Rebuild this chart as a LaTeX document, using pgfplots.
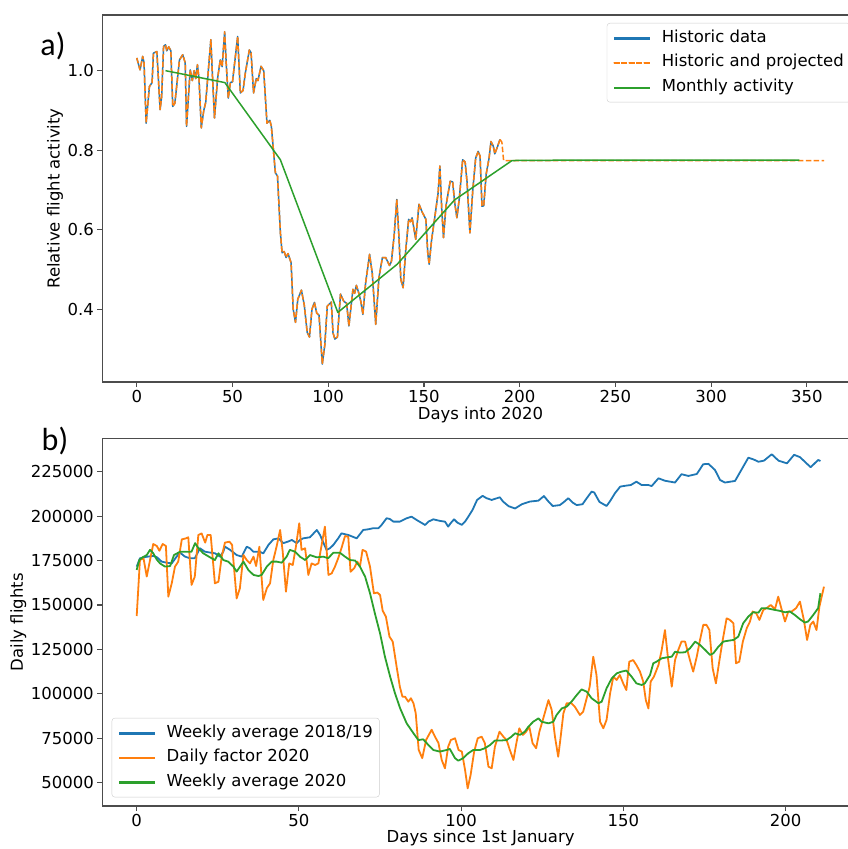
\documentclass[border=0pt]{standalone}
\usepackage{fontspec}
\setmainfont{DejaVu Sans}
\newfontfamily\calfont{Carlito}
\usepackage{pgfplots}
\usepackage{pgfplotstable}
\pgfplotsset{compat=1.18}
\definecolor{mplblue}{HTML}{1F77B4}
\definecolor{mplorange}{HTML}{FF7F0E}
\definecolor{mplgreen}{HTML}{2CA02C}

\pgfplotstableread{
day val
0 1.032
1.7 1.002
3.1 1.036
3.8 1.020
4.9 0.868
6.6 0.960
8.0 0.970
8.7 1.044
10.5 1.048
12.2 0.902
13.0 0.935
14.0 1.061
15.0 1.065
15.7 1.050
16.7 1.060
17.8 1.050
18.8 0.910
19.9 0.918
22.3 1.027
24.0 1.040
25.3 1.020
26.0 0.860
27.9 1.002
29.0 0.975
30.0 1.000
30.8 0.980
31.7 1.015
32.5 0.980
33.7 0.856
35.0 0.900
36.0 0.920
37.2 0.990
38.7 1.078
39.6 0.980
40.6 0.881
42.2 0.980
43.6 1.027
44.6 1.010
45.9 1.098
46.7 1.020
47.8 0.931
48.9 0.970
50.0 0.972
52.7 1.086
54.1 0.944
55.5 0.950
56.7 0.994
58.8 1.052
59.7 1.045
61.0 0.944
62.4 0.980
63.3 0.975
64.9 1.011
66.3 1.000
68.0 0.868
69.5 0.875
70.3 0.860
71.5 0.793
72.4 0.743
73.5 0.735
75.0 0.593
75.9 0.542
77.0 0.545
78.0 0.530
79.0 0.540
80.6 0.517
81.7 0.400
82.9 0.367
84.1 0.425
86.0 0.448
87.5 0.410
89.0 0.342
90.2 0.330
91.5 0.400
92.8 0.417
94.0 0.390
95.2 0.385
96.9 0.262
98.2 0.310
99.5 0.408
101.6 0.418
102.5 0.340
103.5 0.325
104.8 0.330
106.4 0.438
108.1 0.420
109.6 0.415
110.8 0.358
112.0 0.410
112.9 0.450
113.8 0.440
114.7 0.460
116.0 0.440
117.0 0.420
118.1 0.387
119.5 0.465
121.6 0.538
123.0 0.490
124.8 0.362
126.5 0.480
128.3 0.530
130.0 0.530
132.0 0.510
133.0 0.520
134.4 0.584
135.8 0.676
137.0 0.576
137.9 0.475
139.1 0.454
140.5 0.550
142.0 0.626
143.0 0.620
143.8 0.630
145.7 0.576
147.4 0.664
149.0 0.645
151.0 0.626
152.0 0.540
152.7 0.513
154.0 0.575
155.5 0.626
157.4 0.693
158.3 0.760
159.3 0.650
160.2 0.580
161.5 0.660
163.7 0.722
165.0 0.720
166.0 0.670
167.2 0.630
168.5 0.680
170.2 0.776
171.5 0.770
172.5 0.720
174.0 0.592
175.5 0.700
177.0 0.780
178.3 0.797
179.3 0.785
180.3 0.659
181.2 0.660
182.5 0.740
184.0 0.780
185.0 0.822
186.2 0.810
187.0 0.791
188.5 0.810
189.7 0.827
}\histdata

\pgfplotstableread{
day val
189.7 0.827
190.7 0.820
191.6 0.774
359 0.774
}\projtail

\pgfplotstableread{
day val
15 1.000
46 0.970
75 0.776
105 0.392
136 0.513
166 0.675
196 0.774
227 0.775
258 0.775
288 0.775
319 0.775
346 0.775
}\monthly

\pgfplotstableread{
day val
0 171560
1 176250
2.6 177000
5.1 177600
6.2 176900
7.7 174400
9.2 173800
10.8 173400
12.3 177200
13.3 179500
14.9 177200
16.4 176300
17.9 176300
19.5 181900
21.0 180000
22.6 179500
24.1 179100
25.7 177200
26.7 180000
27.2 182800
28.8 181000
30.8 178100
32.4 177200
33.9 182800
34.9 181900
35.9 180000
37.9 180000
39.0 179000
40.6 183800
42.1 186900
43.7 187500
45.2 184800
46.7 185700
47.8 186600
49.3 184800
50.3 186600
51.3 187500
53.4 188100
55.5 192200
56.5 189400
58.5 181000
59.6 182000
60.6 183800
62.1 187500
63.1 190300
65.2 189400
67.8 187500
69.8 192200
71.4 192600
72.9 193200
74.5 193200
75.5 195100
77.0 198800
78.0 198400
79.1 196900
81.1 196900
83.2 198800
84.7 199700
86.3 197800
88.9 195000
89.9 196900
91.4 198200
93.5 197300
95.0 196900
96.0 194100
96.7 195900
97.8 198200
98.8 196400
100.2 195100
101.2 196900
102.2 199700
103.5 203500
104.9 209100
106.6 211400
107.8 210100
109.4 209100
111.9 210600
112.9 208200
114.6 205600
116.6 204300
118.7 206700
121.2 208200
123.8 208700
125.5 211300
126.9 208200
128.2 205700
130.4 206200
131.7 208000
133.0 210100
134.3 207700
135.6 206200
137.4 206700
138.7 210100
140.2 213800
141.0 213300
142.6 208000
144.8 205700
145.8 208200
147.4 212900
149.0 216600
151.0 217200
152.3 217500
154.0 219400
155.6 217500
157.7 217500
158.7 216900
160.8 221300
162.8 219900
165.9 218900
167.9 223600
170.0 222600
172.6 223700
174.6 229200
176.2 229400
178.2 226000
179.8 220300
181.3 218900
184.4 219800
186.9 227800
188.5 232900
190.1 231900
191.6 230600
193.3 231200
195.7 234800
197.8 231200
200.4 229700
202.6 234500
204.4 233200
207.7 227500
210.0 231600
210.7 231000
}\weeklyhist

\pgfplotstableread{
day val
0 143800
1.0 175300
2.1 176300
3.1 166000
5.1 184300
6.2 183200
7.0 180500
8.0 184300
9.0 183200
9.75 154700
10.8 162200
11.8 171600
12.8 174400
13.9 186900
15.2 187500
15.9 188100
16.9 161300
17.9 165900
19.0 189400
20.0 190300
21.1 185100
21.8 189400
22.8 189400
24.1 162200
25.2 163100
26.2 177200
27.2 185100
28.6 185600
29.4 183800
30.8 153700
31.8 159400
32.9 178100
33.9 175300
34.9 173400
36.0 177200
36.8 171900
37.8 182800
39.0 152800
40.1 159400
41.1 162200
42.1 175300
43.1 182800
44.2 192200
45.0 180000
46.0 157500
47.0 173400
48.1 172500
49.1 183200
50.1 196000
50.8 181000
51.9 181900
52.9 166900
53.9 173400
55.0 172500
56.0 173400
57.0 183800
58.0 194100
59.1 166900
60.1 167800
61.1 171600
62.1 176300
63.2 182500
64.2 188800
65.2 188400
65.9 168700
67.0 170600
68.0 174400
68.8 171600
69.6 181000
70.7 180000
71.9 171600
73.1 156600
74.2 157000
75.0 155600
75.8 146800
76.8 143400
77.9 132200
78.9 129400
80.1 115300
81.1 104000
81.9 98400
82.7 98400
83.7 95600
84.5 97500
85.3 94700
86.0 89000
86.9 68500
88.0 63800
89.2 74100
90.9 79800
91.9 76000
93.0 72300
94.0 62800
95.0 58100
96.0 70300
96.8 74000
98.1 75000
99.2 68400
100.2 67500
101.2 57100
102.0 46800
102.9 54300
104.0 67500
105.1 75000
106.3 75900
107.3 72200
108.4 59000
109.4 58100
110.4 70300
111.8 78700
113.0 75900
114.0 74000
115.0 68400
116.1 62800
116.9 71200
117.9 80600
119.0 76900
120.0 78700
121.0 81500
122.0 72200
123.1 69400
124.1 78700
125.3 86200
126.9 96500
127.9 90900
128.9 75900
129.9 64600
130.6 74900
131.5 89000
132.5 94700
134.0 94700
135.0 92800
136.6 88100
137.6 90000
138.4 95600
139.6 104000
140.7 120900
141.7 110600
142.8 84300
143.8 80600
144.8 85300
145.9 100300
146.9 109700
147.9 107800
148.9 110600
149.9 106000
150.9 102100
151.8 118100
153.0 119000
154.0 116200
155.1 112500
156.1 106900
156.9 96500
157.7 91800
158.4 106900
159.4 109700
160.8 116200
161.8 124700
162.8 135900
163.8 119000
164.9 104000
165.9 119000
166.9 124700
167.9 129400
169.0 129400
170.5 119000
171.5 112500
172.6 120900
173.6 130300
174.6 138800
175.6 138800
176.5 135900
177.5 114400
178.5 105900
179.6 119000
180.6 130300
181.8 142500
182.8 141600
183.9 139700
184.7 117200
185.7 118100
186.8 129400
188.0 136900
189.0 140700
189.8 146300
190.9 145400
191.9 141600
193.1 147200
194.1 148200
195.4 150000
196.7 147600
197.7 154700
198.8 147200
199.8 140700
200.8 146300
201.8 146300
203.2 148200
204.4 151900
205.6 141600
206.6 130300
207.6 138800
208.5 140700
209.5 135900
210.4 149100
211.8 160300
}\dailyfactor

\pgfplotstableread{
day val
0 169700
0.8 175300
1.8 176800
3.1 178100
4.1 181000
5.1 179100
6.2 175500
7.2 173400
8.7 171600
10.3 171900
11.5 178100
13.4 180000
15.4 180000
16.9 180000
18.0 184800
19.0 182000
20.5 179100
22.6 176800
24.1 175300
25.2 179100
26.7 175300
28.2 174400
29.8 171600
30.8 168800
32.9 174400
34.4 169700
36.0 166900
37.5 166300
38.5 166900
40.1 171600
41.6 174400
43.1 174400
44.7 173800
46.2 177200
47.2 181000
48.8 180000
50.3 177200
51.9 175300
53.4 178100
55.5 176800
57.5 177200
59.0 176300
60.6 179400
62.6 179400
64.2 177200
65.7 175300
67.3 175000
68.8 171600
70.4 165900
71.9 156600
73.4 145300
75.0 134000
76.5 120900
78.1 109700
79.6 100300
81.2 91800
83.2 83400
85.3 77800
86.8 74000
88.3 74400
89.9 71200
91.4 68400
93.4 67500
95.5 68400
96.5 69000
98.1 63800
99.1 62400
100.6 63800
102.2 66600
103.7 68400
105.8 68400
107.3 69400
108.9 71200
110.4 73700
111.9 73700
114.0 74000
115.5 75900
116.6 77800
118.1 76900
119.6 78700
120.7 81500
122.2 84300
123.8 86200
124.8 84300
126.9 83400
128.4 84300
129.4 88100
131.0 91800
132.5 92800
134.0 95600
135.6 99300
137.1 102500
138.7 101200
140.2 97500
142.3 94700
143.3 95600
144.8 103100
146.4 108700
147.9 111500
149.4 112500
150.9 113100
152.5 109700
154.0 105900
155.6 105000
156.6 105900
158.2 110600
159.2 117200
160.2 118100
161.8 120000
163.3 120500
164.9 120900
165.9 123700
167.4 123200
169.0 123400
170.5 125600
172.1 129400
173.6 127500
175.2 124700
176.7 121900
177.7 122800
179.3 126600
180.8 129400
182.3 129900
183.9 130300
185.4 132200
186.9 139700
188.5 143500
190.0 145900
191.6 145700
192.6 148200
194.1 148200
196.7 147200
198.2 146700
199.8 145900
201.3 146300
202.8 144400
204.4 142000
205.9 140100
206.9 140700
208.5 144400
210.0 148200
210.7 156600
}\weeklynow

\pgfplotsset{
  mystyle/.style={
    scale only axis,
    axis line style={black!70, line width=1.1pt},
    tick style={black!70, line width=1.1pt},
    major tick length=5pt,
    tick align=outside,
    tick pos=left,
    minor tick num=0,
    tick label style={font=\fontsize{16.5}{19.8}\selectfont},
    label style={font=\fontsize{16.5}{19.8}\selectfont},
    /pgf/number format/assume math mode=true,
    legend cell align=left,
    legend style={draw=black!20, rounded corners=3pt, fill=white,
      inner xsep=6.6pt, inner ysep=6.6pt, row sep=8.15pt, column sep=13pt,
      nodes={inner sep=0pt, text height=12.5pt, text depth=4pt, font=\fontsize{16.5}{19.8}\selectfont}},
  }
}

\begin{document}
\begin{tikzpicture}
\useasboundingbox (0pt,0pt) rectangle (848pt,849pt);
\begin{scope}
\clip (0pt,0pt) rectangle (848pt,849pt);
\begin{axis}[mystyle,
  at={(102.3pt,467pt)}, anchor=south west,
  width=756.3pt, height=367pt,
  xmin=-18, xmax=377, ymin=0.217, ymax=1.140,
  xtick={0,50,100,150,200,250,300,350},
  ytick={0.4,0.6,0.8,1.0},
  yticklabel style={/pgf/number format/.cd, fixed, fixed zerofill, precision=1},
  xlabel={Days into 2020},
  ylabel={Relative flight activity},
  xlabel style={at={(axis description cs:0.5,-0.09)}, anchor=center},
  ylabel style={at={(axis description cs:-0.0625,0.5)}, anchor=center},
  legend style={at={(rel axis cs:1,1)}, anchor=north east, xshift=-8pt, yshift=-8pt},
]
\addplot[forget plot, mplblue, line width=1.5pt, line join=round] table[x=day,y=val] {\histdata};
\addplot[forget plot, mplorange, line width=1.5pt, line join=round, dash pattern=on 5.5pt off 2.4pt] table[x=day,y=val] {\histdata};
\addplot[forget plot, mplorange, line width=1.5pt, dash pattern=on 5.5pt off 2.4pt] table[x=day,y=val] {\projtail};
\addplot[forget plot, mplgreen, line width=1.5pt, line join=round] table[x=day,y=val] {\monthly};
\addlegendimage{legend image code/.code={\path[fill=mplblue, draw=mplblue, line width=0.2pt, sharp corners] (0pt,-0.65pt) rectangle (35pt,0.65pt);}}
\addlegendentry{Historic data}
\addlegendimage{legend image code/.code={%
  \path[fill=mplorange, draw=mplorange, line width=0.2pt, sharp corners] (0pt,-0.65pt) rectangle (5pt,0.65pt)
    (7.5pt,-0.65pt) rectangle (12.5pt,0.65pt)
    (15pt,-0.65pt) rectangle (20pt,0.65pt)
    (22.5pt,-0.65pt) rectangle (27.5pt,0.65pt)
    (30pt,-0.65pt) rectangle (35pt,0.65pt);}}
\addlegendentry{Historic and projected}
\addlegendimage{legend image code/.code={\path[fill=mplgreen, draw=mplgreen, line width=0.2pt, sharp corners] (0pt,-0.65pt) rectangle (35pt,0.65pt);}}
\addlegendentry{Monthly activity}
\end{axis}

\begin{axis}[mystyle,
  at={(102.3pt,43pt)}, anchor=south west,
  width=756.7pt, height=367.7pt,
  xmin=-10.6, xmax=222.6, ymin=36890, ymax=243790,
  xtick={0,50,100,150,200},
  ytick={50000,75000,100000,125000,150000,175000,200000,225000},
  scaled y ticks=false,
  yticklabel style={/pgf/number format/.cd, fixed, 1000 sep={}},
  xlabel={Days since 1st January},
  ylabel={Daily flights},
  xlabel style={at={(axis description cs:0.5,-0.088)}, anchor=center},
  ylabel style={at={(axis description cs:-0.111,0.5)}, anchor=center},
  legend style={at={(rel axis cs:0,0)}, anchor=south west, xshift=9.4pt, yshift=8.7pt},
]
\addplot[forget plot, mplblue, line width=1.8pt, line join=round] table[x=day,y=val] {\weeklyhist};
\addplot[forget plot, mplorange, line width=1.8pt, line join=round] table[x=day,y=val] {\dailyfactor};
\addplot[forget plot, mplgreen, line width=1.8pt, line join=round] table[x=day,y=val] {\weeklynow};
\addlegendimage{legend image code/.code={\path[fill=mplblue, draw=mplblue, line width=0.2pt, sharp corners] (0pt,-0.8pt) rectangle (35pt,0.8pt);}}
\addlegendentry{Weekly average 2018/19}
\addlegendimage{legend image code/.code={\path[fill=mplorange, draw=mplorange, line width=0.2pt, sharp corners] (0pt,-0.8pt) rectangle (35pt,0.8pt);}}
\addlegendentry{Daily factor 2020}
\addlegendimage{legend image code/.code={\path[fill=mplgreen, draw=mplgreen, line width=0.2pt, sharp corners] (0pt,-0.8pt) rectangle (35pt,0.8pt);}}
\addlegendentry{Weekly average 2020}
\end{axis}

\node[font=\calfont\fontsize{32}{36}\selectfont, anchor=center] at (53pt,803pt) {a)};
\node[font=\calfont\fontsize{32}{36}\selectfont, anchor=center] at (55pt,408pt) {b)};
\end{scope}
\end{tikzpicture}
\end{document}
